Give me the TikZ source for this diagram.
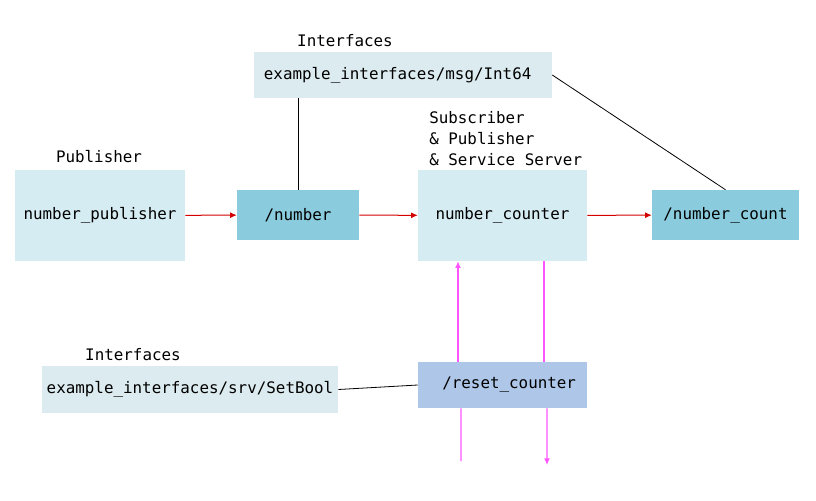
\documentclass[tikz,border=0pt]{standalone}
\usepackage{fontspec}
\setmonofont{DejaVu Sans Mono}
\usetikzlibrary{positioning,arrows.meta}

\definecolor{nodefill}{HTML}{D6ECF3}
\definecolor{topicfill}{HTML}{8ACCDD}
\definecolor{ifacefill}{HTML}{DCEBEF}
\definecolor{srvfill}{HTML}{AEC6E8}
\definecolor{msgred}{HTML}{D40000}
\definecolor{srvpink}{HTML}{FF55FF}

\begin{document}
\begin{tikzpicture}[
    x=0.75pt, y=-0.75pt,
    every node/.style={
        rectangle,
        align=center,
        inner sep=0pt,
        font=\ttfamily\fontsize{11.9}{15.75}\selectfont,
    },
    rosnode/.style={fill=nodefill},
    topic/.style={fill=topicfill, minimum height=37.5pt},
    iface/.style={fill=ifacefill},
    service/.style={fill=srvfill, minimum height=34.5pt},
    msgline/.style={msgred, line width=0.75pt, ->},
    srvline/.style={srvpink, line width=1pt},
    link/.style={black, line width=0.6pt},
    >={Latex[length=5pt,width=4.5pt]}
]

\useasboundingbox (0,0) rectangle (816,500);

% ROS nodes
\node[rosnode, minimum width=127.5pt, minimum height=68.25pt] (pub) at (100,215.5) {number\_publisher};
\node[rosnode, minimum width=126.75pt, minimum height=68.25pt] (counter) at (502.5,215.5) {number\_counter};

% topics
\node[topic, minimum width=91.5pt] (number) at (298,215) {/number};
\node[topic, minimum width=110.25pt] (count) at (725.5,215) {/number\_count};

% service
\node[service, minimum width=126.75pt] (reset) at (502.5,385) {\hspace{10pt}/reset\_counter};

% interfaces
\node[iface, minimum width=223.5pt, minimum height=34.5pt] (ifacemsg) at (403,75) {example\_interfaces/msg/Int64\hspace{8pt}};
\node[iface, minimum width=222pt, minimum height=35.25pt] (ifacesrv) at (190,389.5) {example\_interfaces/srv/SetBool};

% labels
\node (pubtag) at (99,157) {Publisher};
\node (msgtag) at (345,41) {Interfaces};
\node (srvtag) at (133,355) {Interfaces};
\node[anchor=west, align=left] (countertag) at (429,139) {Subscriber\\\& Publisher\\\& Service Server};

% free ends of the service lines
\coordinate (reqin) at (461,461);
\coordinate (respout) at (547,465);

% topic flow
\draw[msgline] (pub) -- (number);
\draw[msgline] (number) -- (counter);
\draw[msgline] (counter) -- (count);

% interface links
\draw[link] (number.north) -- (number.north |- ifacemsg.south);
\draw[link] (ifacemsg.east) -- (count.north);
\draw[link] (ifacesrv.east) -- (reset.west);

% service calls
\draw[srvline, ->] ([xshift=-33.4pt]reset.north) -- ([xshift=-33.4pt]counter.south);
\draw[srvline] ([xshift=31.1pt]counter.south) -- ([xshift=31.1pt]reset.north);
\draw[srvline] ([xshift=-31.1pt]reset.south) -- (reqin);
\draw[srvline, ->] ([xshift=33.4pt]reset.south) -- (respout);

\end{tikzpicture}
\end{document}
